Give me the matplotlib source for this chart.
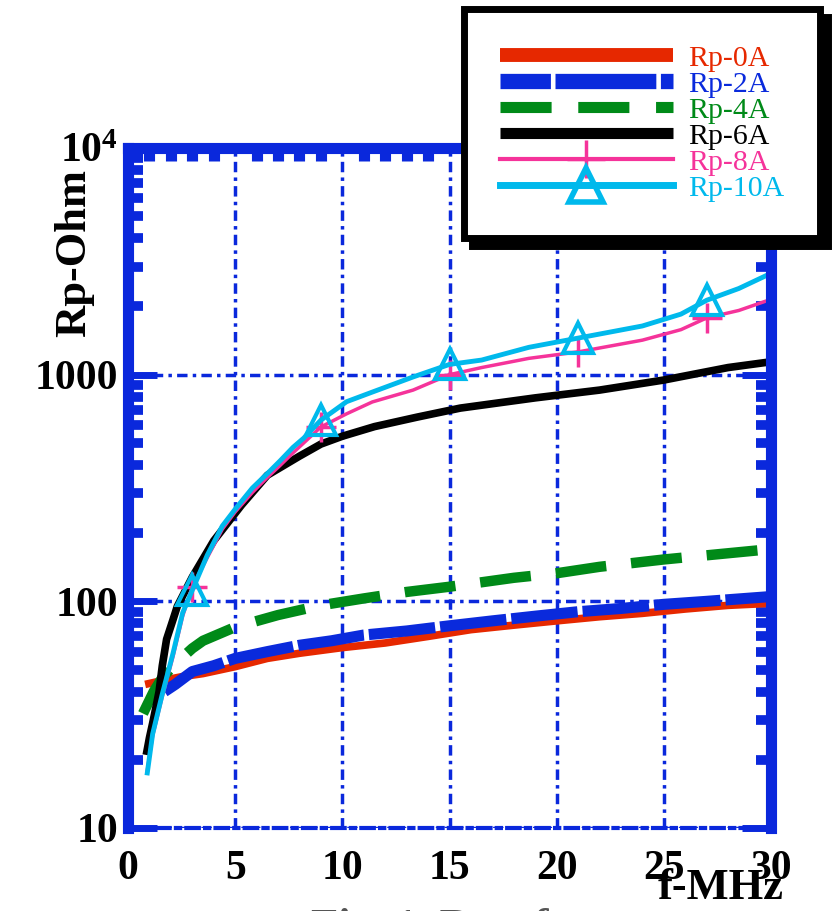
import matplotlib.pyplot as plt
from matplotlib.lines import Line2D
from matplotlib.ticker import MultipleLocator, LogLocator, NullFormatter

plt.rcParams['font.family'] = ['Liberation Serif', 'DejaVu Serif']
plt.rcParams['mathtext.fontset'] = 'custom'
plt.rcParams['mathtext.rm'] = 'Liberation Serif'
plt.rcParams['mathtext.bf'] = 'Liberation Serif:bold'

# values: f in MHz, Rp in Ohm
f_0a = [0.8, 1.5, 2.5, 3.5, 5, 6.5, 8, 10, 12, 14, 16, 18, 20, 22, 24, 26, 28, 30]
rp_0a = [43, 44.5, 46.5, 48, 51.5, 56, 59, 62.5, 65.5, 70, 75, 78.5, 82, 85.5, 88.5, 92.5, 96, 98]

f_2a = [1.7, 2.2, 3, 4, 5, 6.5, 8, 9.5, 11, 13, 15, 17, 19, 21, 23, 25, 27, 30]
rp_2a = [40, 43, 49, 52, 56, 60, 64, 67, 71, 74, 78, 82, 86, 90, 93, 97, 100, 105]

f_4a = [0.7, 1.2, 1.6, 2.2, 3, 3.5, 5, 7, 9, 11, 13, 15, 18, 20, 22, 25, 28, 30]
rp_4a = [32, 40, 46, 53, 62, 67, 77, 87, 96, 103, 110, 116, 127, 133, 142, 153, 163, 170]

f_6a = [0.85, 1.0, 1.15, 1.3, 1.45, 1.6, 1.8, 2.1, 2.3, 3, 4, 5.3, 6.5, 8, 9, 10,
        11.5, 13.5, 15.5, 19, 22, 25, 28, 30]
rp_6a = [21, 25, 29, 34, 40, 52, 68, 83, 95, 128, 185, 266, 360, 437, 494, 535,
         590, 650, 712, 790, 855, 947, 1075, 1140]

f_hi = [0.9, 1.15, 1.6, 2.1, 2.55, 3, 3.7, 4.4, 5, 5.8, 6.5, 7.1, 7.7, 8.2, 9, 10.2,
        11.4, 13.3, 15, 16.5, 18.7, 21, 24, 25.8, 27, 28.5, 30]
rp_8a = [18, 25.5, 38, 57, 86, 116, 156, 208, 248, 302, 352, 398, 452, 500, 588, 672,
         758, 855, 1000, 1075, 1180, 1260, 1420, 1580, 1780, 1920, 2150]
rp_10a = [17.5, 26, 39, 59, 89, 112, 160, 215, 255, 316, 366, 417, 478, 525, 630, 760,
          838, 977, 1110, 1160, 1320, 1450, 1640, 1850, 2130, 2400, 2800]
marker_f = [3, 9, 15, 21, 27]

labels = ['Rp-0A', 'Rp-2A', 'Rp-4A', 'Rp-6A', 'Rp-8A', 'Rp-10A']
colors = ['#e62800', '#0a2adc', '#008a18', '#000000', '#f5339a', '#00b9ec']
AXBLUE = '#0a28dc'

fig = plt.figure(figsize=(8.39, 9.11), dpi=100)
ax = fig.add_axes([128 / 839, 1 - 828 / 911, 643 / 839, 680 / 911])

mk = [f_hi.index(v) for v in marker_f]
ax.plot(f_0a, rp_0a, color=colors[0], lw=5.5, solid_capstyle='butt')
ax.plot(f_2a, rp_2a, color=colors[1], lw=8, dashes=(6, 0.45), dash_capstyle='butt')
ax.plot(f_4a, rp_4a, color=colors[2], lw=7.5, dashes=(4.9, 2.4), dash_capstyle='butt')
ax.plot(f_6a, rp_6a, color=colors[3], lw=5.5, solid_capstyle='butt')
ax.plot(f_hi, rp_8a, color=colors[4], lw=2.5, marker='+', ms=22, mew=2.5, markevery=mk)
ax.plot(f_hi, rp_10a, color=colors[5], lw=3.5, marker='^', ms=22, mfc='none', mew=3,
        markevery=mk)

ax.set_xlim(0, 30)
ax.set_yscale('log')
ax.set_ylim(10, 1e4)

ax.set_xticks(range(0, 31, 5))
ax.set_xticklabels([str(v) for v in range(0, 31, 5)])
ax.xaxis.set_minor_locator(MultipleLocator(1))
ax.set_yticks([10, 100, 1000, 10000])
ax.set_yticklabels(['10', '100', '1000', r'$\mathbf{10^4}$'])
ax.yaxis.set_minor_locator(LogLocator(base=10, subs=range(2, 10)))
ax.yaxis.set_minor_formatter(NullFormatter())

for s in ['left', 'right', 'top']:
    ax.spines[s].set_color(AXBLUE)
    ax.spines[s].set_linewidth(8)
ax.spines['bottom'].set_color(AXBLUE)
ax.spines['bottom'].set_linewidth(3)
ax.spines['bottom'].set_linestyle((0, (3, 1.5, 1, 1.5)))

ax.tick_params(axis='y', which='major', direction='in', left=True, right=True,
               length=21, width=5, color=AXBLUE, pad=7, labelsize=30)
ax.tick_params(axis='y', which='minor', direction='in', left=True, right=True,
               length=11, width=7, color=AXBLUE)
ax.tick_params(axis='x', which='major', length=0, pad=16, labelsize=30)
ax.tick_params(axis='x', which='minor', direction='in', top=True, bottom=False,
               length=9, width=8, color=AXBLUE)
for t in ax.get_xticklabels() + ax.get_yticklabels():
    t.set_fontweight('bold')

ax.grid(which='major', color=AXBLUE, lw=2.5, dashes=(3, 1.5, 1, 1.5))

fig.text(74 / 839, 1 - 253 / 911, 'Rp-Ohm', rotation=90, ha='center', va='center',
         fontsize=32, fontweight='bold')
fig.text(721 / 839, 1 - 888 / 911, 'f-MHz', ha='center', va='center',
         fontsize=32, fontweight='bold')
# caption below the figure, only its top edge shows
fig.text(430 / 839, 1 - 908 / 911, 'Fig. 1  Rp - f', ha='center', va='top',
         fontsize=32, fontweight='bold', color='#555555')

# legend proxies
handles = [
    Line2D([], [], color=colors[0], lw=10, solid_capstyle='butt'),
    Line2D([], [], color=colors[1], lw=11, dashes=(3.3, 0.3, 6.6, 0.3), dash_capstyle='butt'),
    Line2D([], [], color=colors[2], lw=8, dashes=(4.6, 2.4), dash_capstyle='butt'),
    Line2D([], [], color=colors[3], lw=8, solid_capstyle='butt'),
    Line2D([], [], color=colors[4], lw=3, marker='+', ms=28, mew=2.5),
    Line2D([], [], color=colors[5], lw=5, marker='^', ms=24, mfc='none', mew=4),
]
leg = ax.legend(handles, labels, loc='upper left', bbox_to_anchor=(464 / 839, 1 - 9 / 911),
                bbox_transform=fig.transFigure, borderaxespad=0, fontsize=21.5,
                handlelength=5.8, handletextpad=0.5, borderpad=1.2, labelspacing=-0.03,
                fancybox=False, framealpha=1, edgecolor='black',
                shadow={'ox': 6, 'oy': -6, 'color': 'black', 'alpha': 1})
leg.get_frame().set_linewidth(5)
for txt, c in zip(leg.get_texts(), colors):
    txt.set_color(c)

fig.savefig('out.png', dpi=100)
